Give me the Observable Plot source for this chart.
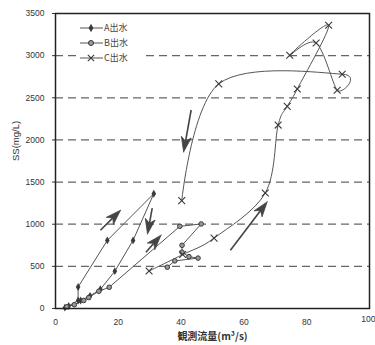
<!DOCTYPE html>
<html><head><meta charset="utf-8">
<script src="https://cdn.jsdelivr.net/npm/d3@7"></script>
<script src="https://cdn.jsdelivr.net/npm/@observablehq/plot@0.6"></script>
<style>
html,body{margin:0;padding:0;background:#fff;}
#wrap{position:relative;width:375px;height:345px;overflow:hidden;}
#legend{position:absolute;left:78px;top:19px;width:68px;height:47px;background:#fff;}
</style></head><body>
<div id="wrap"><div id="chart"></div><svg id="legend" width="68" height="47"></svg></div>
<script>
// ---- data ----
const seriesNames = ["A出水", "B出水", "C出水"];
const aX = [3.0, 4.2, 7.2, 7.2, 16.5, 31.3, 24.7, 18.9, 14.3, 11.0, 8.0];
const aY = [10, 30, 95, 255, 808, 1362, 808, 443, 228, 150, 95];
const bX = [3.6, 6.0, 9.0, 10.6, 13.8, 17.1, 39.6, 46.4, 40.3, 40.3, 42.5, 45.4, 38.0, 35.6];
const bY = [20, 45, 95, 130, 205, 252, 975, 1003, 750, 668, 615, 598, 565, 490];
const cX = [29.8, 40.5, 50.5, 66.8, 70.9, 73.8, 77.0, 87.0, 74.6, 83.0, 89.7, 91.3, 52.0, 40.2];
const cY = [445, 640, 835, 1370, 2176, 2398, 2605, 3360, 3004, 3150, 2590, 2780, 2665, 1280];
const xTicks = [0, 20, 40, 60, 80];
const xLastTick = [100];
const yTicks = [0, 500, 1000, 1500, 2000, 2500, 3000, 3500];
const gridY = [500, 1000, 1500, 2000, 2500, 3000];
// hand-drawn direction arrows: tail (x1,y1) -> tip (x2,y2)
const arrowX1 = [14.3, 30.8, 28.8, 43.2, 55.7];
const arrowY1 = [928, 1190, 668, 2355, 690];
const arrowX2 = [20.7, 29.3, 33.6, 40.8, 67.4];
const arrowY2 = [1165, 885, 870, 1858, 1265];
const xTitle = "観測流量(m³/s)";
const yTitle = "SS(mg/L)";

// ---- build tables ----
const A = aX.map((x, i) => ({x, y: aY[i]}));
const B = bX.map((x, i) => ({x, y: bY[i]}));
const C = cX.map((x, i) => ({x, y: cY[i]}));

const W = 375, H = 345, ML = 55, MR = 6, MT = 13, MB = 37;
const kx = (W - ML - MR) / 100, ky = (H - MT - MB) / 3500;
const shafts = [], heads = [];
arrowX1.forEach((x1, i) => {
  const y1 = arrowY1[i], x2 = arrowX2[i], y2 = arrowY2[i];
  const sx = (x2 - x1) * kx, sy = -(y2 - y1) * ky;
  const L = Math.hypot(sx, sy), ux = sx / L, uy = sy / L;
  const hl = 15, hw = 5, px = -uy, py = ux;
  const toData = (dx, dy) => ({x: x2 + dx / kx, y: y2 - dy / ky, id: i});
  const notch = toData(-ux * hl * 0.72, -uy * hl * 0.72);
  shafts.push({x1, y1, x2: notch.x, y2: notch.y});
  heads.push(toData(0, 0),
    toData(-ux * hl + px * hw, -uy * hl + py * hw),
    notch,
    toData(-ux * hl - px * hw, -uy * hl - py * hw),
    toData(0, 0));
});

const ink = "#3a3a3a", lineInk = "#555";
const chart = Plot.plot({
  width: W, height: H, marginLeft: ML, marginRight: MR, marginTop: MT, marginBottom: MB,
  style: {fontFamily: "'Liberation Sans', Arial, sans-serif", fontSize: "8.5px", color: "#333", background: "#fff"},
  x: {domain: [0, 100], ticks: xTicks, tickSize: 0, tickPadding: 10, tickFormat: d3.format("d"), label: null},
  y: {domain: [0, 3500], ticks: yTicks, tickSize: 3, tickPadding: 8, tickFormat: d3.format("d"), label: null},
  marks: [
    Plot.ruleY(gridY, {stroke: "#666", strokeWidth: 1.2, strokeDasharray: "8,5"}),
    Plot.line(A, {x: "x", y: "y", stroke: lineInk, strokeWidth: 1}),
    Plot.line(B, {x: "x", y: "y", stroke: lineInk, strokeWidth: 1}),
    Plot.line(C, {x: "x", y: "y", stroke: lineInk, strokeWidth: 1, curve: d3.curveCatmullRom.alpha(0)}),
    Plot.dot(A, {x: "x", y: "y", symbol: "diamond", fill: ink, r: 2.4}),
    Plot.dot(B, {x: "x", y: "y", symbol: "circle", fill: "#999", stroke: ink, strokeWidth: 1, r: 2.3}),
    Plot.dot(C, {x: "x", y: "y", symbol: "times", stroke: ink, strokeWidth: 1.1, r: 3.2}),
    Plot.link(shafts, {x1: "x1", y1: "y1", x2: "x2", y2: "y2", stroke: "#444", strokeWidth: 1.6}),
    Plot.line(heads, {x: "x", y: "y", z: "id", fill: "#444", stroke: "#444", strokeWidth: 0.8}),
    Plot.frame({stroke: "#222", strokeWidth: 1.5}),
    Plot.text(xLastTick, {x: d => d, text: d => String(d), frameAnchor: "bottom", dy: 13, dx: 6, textAnchor: "end", fill: "#333"}),
    Plot.text([yTitle], {text: d => d, frameAnchor: "left", dx: -40, rotate: -90, fontSize: 9.5, fill: "#333"}),
    Plot.text([xTitle], {text: d => d, frameAnchor: "bottom", dy: 31, fontSize: 10, fontWeight: "bold", fill: "#333",
      fontFamily: "'Noto Sans CJK JP', 'Liberation Sans', sans-serif"})
  ]
});
document.getElementById("chart").appendChild(chart);

// ---- legend overlay ----
const lg = d3.select("#legend");
const symbols = [d3.symbolDiamond, d3.symbolCircle, d3.symbolTimes];
seriesNames.forEach((name, i) => {
  const y = 9 + i * 15;
  lg.append("line").attr("x1", 2).attr("x2", 25).attr("y1", y).attr("y2", y).attr("stroke", lineInk).attr("stroke-width", 1);
  const p = lg.append("path").attr("transform", `translate(13,${y})`)
    .attr("d", d3.symbol(symbols[i], i === 2 ? 28 : 20)());
  if (i === 0) p.attr("fill", ink);
  else if (i === 1) p.attr("fill", "#999").attr("stroke", ink);
  else p.attr("fill", "none").attr("stroke", ink).attr("stroke-width", 1.1);
  lg.append("text").attr("x", 26).attr("y", y).attr("dy", "0.35em").attr("fill", "#444")
    .attr("font-size", "9px").attr("font-family", "'Noto Sans CJK JP', 'Liberation Sans', sans-serif").text(name);
});
</script>
</body></html>
